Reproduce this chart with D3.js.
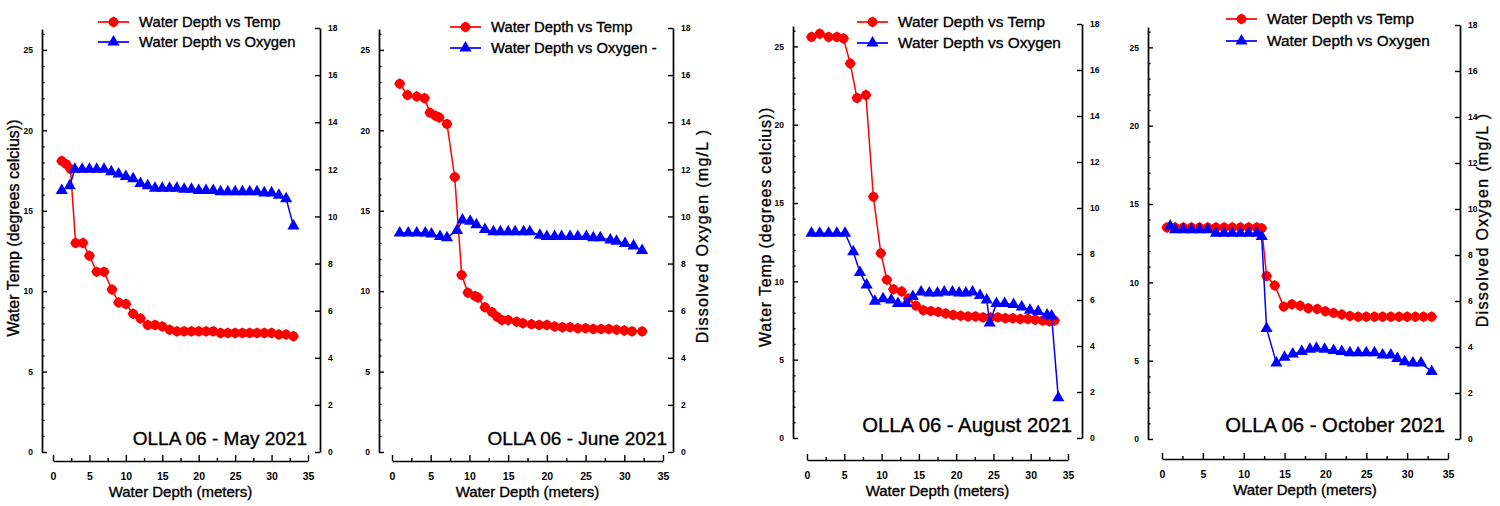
<!DOCTYPE html>
<html><head><meta charset="utf-8">
<script src="https://cdn.jsdelivr.net/npm/d3@7"></script>
<style>
body{margin:0;background:#fff;}
svg{display:block;font-family:"Liberation Sans",Arial,sans-serif;}
</style></head><body>
<svg id="chart" width="1500" height="506"></svg>
<script>
// ---------- tick labels / texts ----------
const xTickValues = [0,5,10,15,20,25,30,35];
const tempTickValues = [0,5,10,15,20,25];
const oxyTickValues = [0,2,4,6,8,10,12,14,16,18];
const tempAxisMax = 26.3;
const oxyAxisMax = 18;
const depthAxisMax = 35;
const tempLabel = "Water Temp (degrees celcius))";
const oxyLabel = "Dissolved Oxygen (mg/L )";
const xLabel = "Water Depth (meters)";
const tempSeriesName = "Water Depth vs Temp";
const oxySeriesNames = ["Water Depth vs Oxygen","Water Depth vs Oxygen -","Water Depth vs Oxygen","Water Depth vs Oxygen"];
const panelTitles = ["OLLA 06 - May 2021","OLLA 06 - June 2021","OLLA 06 - August 2021","OLLA 06 - October 2021"];

// ---------- data ----------
const mayTempDepth = [1.2,1.8,2.4,3.1,4.1,5,6,7,8.1,9,10,11,12,13,14,15,16,17,18,19,20,21,22,23,24,25,26,27,28,29,30,31,32,33];
const mayTemp      = [18.1,17.9,17.6,13.0,13.0,12.2,11.2,11.2,10.1,9.3,9.2,8.6,8.3,7.9,7.9,7.8,7.6,7.5,7.5,7.5,7.5,7.5,7.5,7.4,7.4,7.4,7.4,7.4,7.4,7.4,7.4,7.3,7.3,7.2];
const mayOxyDepth  = [1.2,2.3,3,4,5,6,7,8,9,10,11,12,13,14,15,16,17,18,19,20,21,22,23,24,25,26,27,28,29,30,31,32,33];
const mayOxy       = [11.1,11.3,12.0,12.0,12.0,12.0,12.0,11.9,11.8,11.7,11.6,11.4,11.3,11.2,11.2,11.2,11.2,11.15,11.15,11.1,11.1,11.1,11.05,11.05,11.05,11.05,11.05,11.05,11.0,11.0,10.9,10.75,9.6];

const junTempDepth = [1.0,2.0,3.2,4.2,4.9,5.6,6.1,7.1,8.1,9.0,9.8,10.7,11.1,12.0,12.9,13.6,14.2,15.0,16.1,16.9,18,19,20,21,22,23,24,25,26,27,28,29,30,31,32.3];
const junTemp      = [22.9,22.2,22.1,22.0,21.1,20.9,20.8,20.4,17.1,11.0,9.9,9.7,9.6,9.0,8.7,8.4,8.2,8.2,8.1,8.0,7.95,7.9,7.9,7.8,7.75,7.75,7.7,7.7,7.65,7.65,7.65,7.6,7.55,7.5,7.5];
const junOxyDepth  = [1.0,2.1,3.2,4.3,5.1,6.2,7.1,8.4,9.1,10.1,10.9,12.0,13.1,14,15,15.9,17,17.8,19.1,20,21,21.9,23,24,25.1,26,26.9,28.2,29,30.1,31.2,32.3];
const junOxy       = [9.3,9.3,9.3,9.3,9.25,9.15,9.1,9.4,9.85,9.8,9.65,9.45,9.35,9.35,9.35,9.35,9.35,9.35,9.2,9.15,9.15,9.15,9.15,9.15,9.15,9.1,9.1,9.0,8.95,8.85,8.75,8.55];

const augTempDepth = [0.6,1.7,2.9,4.0,4.9,5.8,6.7,7.9,8.9,9.9,10.7,11.6,12.7,13.6,14.6,15.6,16.6,17.6,18.6,19.6,20.6,21.6,22.6,23.6,24.6,25.6,26.6,27.6,28.6,29.6,30.6,31.6,32.5,33.2];
const augTemp      = [25.6,25.8,25.6,25.6,25.5,23.9,21.7,21.9,15.4,11.8,10.1,9.5,9.35,8.9,8.45,8.15,8.1,8.05,7.95,7.85,7.8,7.75,7.75,7.7,7.7,7.7,7.65,7.65,7.6,7.6,7.55,7.5,7.45,7.5];
const augOxyDepth  = [0.6,1.7,2.9,4.0,5.1,6.2,7.1,8.0,9.1,10.2,11.3,12.2,13.3,14.2,15.3,16.4,17.5,18.4,19.5,20.4,21.3,22.2,23.2,24.1,24.5,25.4,26.5,27.7,28.8,29.9,31.0,32.2,32.8,33.7];
const augOxy       = [8.9,8.9,8.9,8.9,8.9,8.1,7.2,6.65,5.95,6.05,6.0,5.85,5.85,6.15,6.35,6.3,6.3,6.35,6.35,6.3,6.3,6.35,6.2,6.0,5.0,5.85,5.85,5.8,5.7,5.55,5.5,5.35,5.3,1.75];

const octTempDepth = [0.6,1.6,2.6,3.6,4.6,5.6,6.6,7.6,8.6,9.6,10.6,11.6,12.2,12.8,13.8,14.9,15.9,16.9,17.9,19.0,20.0,21.0,22.0,23.0,24,25,26,27,28,29,30,31,32,33];
const octTemp      = [13.5,13.5,13.5,13.5,13.5,13.5,13.5,13.5,13.5,13.5,13.5,13.5,13.45,10.4,9.8,8.45,8.6,8.5,8.35,8.3,8.15,8.05,7.95,7.85,7.8,7.8,7.8,7.8,7.8,7.8,7.8,7.8,7.8,7.8];
const octOxyDepth  = [1.0,1.6,2.6,3.6,4.6,5.6,6.6,7.6,8.6,9.6,10.6,11.6,12.2,12.8,14.0,15.0,16.0,17.1,18.1,18.9,19.9,21.0,22.0,23.0,24,25,26,27,28,28.8,29.7,30.7,31.7,33.0];
const octOxy       = [9.25,9.1,9.1,9.1,9.1,9.1,8.95,8.95,8.95,8.95,8.95,8.95,8.8,4.8,3.3,3.55,3.7,3.8,3.9,3.95,3.9,3.85,3.8,3.75,3.75,3.75,3.75,3.65,3.65,3.5,3.36,3.3,3.3,2.93];

const panelData = [
  {tD: mayTempDepth, t: mayTemp, oD: mayOxyDepth, o: mayOxy},
  {tD: junTempDepth, t: junTemp, oD: junOxyDepth, o: junOxy},
  {tD: augTempDepth, t: augTemp, oD: augOxyDepth, o: augOxy},
  {tD: octTempDepth, t: octTemp, oD: octOxyDepth, o: octOxy}
];

// ---------- layout (positions / styles) ----------
const layout = [
  {left:42, right:320, top:29, rTop:28, bottom:452, xAxisY:461, x0:53, x1:308,
   legX:98, legY:[22,42], legFont:14.8, ann:[307,445], annFont:19,
   yTitle:{x:13, y:228, text:"temp", ls:0}},
  {left:379, right:673, top:29, rTop:28, bottom:452, xAxisY:461, x0:392, x1:663,
   legX:450, legY:[27,48], legFont:14.8, ann:[667,445], annFont:19,
   yTitle:{x:702, y:236, text:"oxy", ls:1.3}},
  {left:793, right:1082, top:26, rTop:24, bottom:438, xAxisY:460, x0:807, x1:1068,
   legX:857, legY:[22,43], legFont:15.4, ann:[1072,432], annFont:20.3,
   yTitle:{x:765, y:227, text:"temp", ls:0.8}},
  {left:1148, right:1460, top:27, rTop:25, bottom:439, xAxisY:459, x0:1162, x1:1448,
   legX:1226, legY:[19,41], legFont:15.4, ann:[1445,432], annFont:20.3,
   yTitle:{x:1482, y:220, text:"oxy", ls:1.3}}
];

const RED = "#ff0000", BLUE = "#0000ff";
const svg = d3.select("#chart");

// red marker: pointed blob
const blobSymbol = {
  draw(ctx, size) {
    const r = Math.sqrt(size) / 2, a = r * 0.64;
    ctx.moveTo(0, -r); ctx.lineTo(a, -a); ctx.lineTo(r, 0); ctx.lineTo(a, a);
    ctx.lineTo(0, r); ctx.lineTo(-a, a); ctx.lineTo(-r, 0); ctx.lineTo(-a, -a); ctx.closePath();
  }
};
const redSym = d3.symbol().type(blobSymbol).size(120);
const blueSym = d3.symbol().type(d3.symbolTriangle).size(64);

function styleAxis(sel, fontSize) {
  sel.selectAll("path.domain").attr("stroke", "#000").attr("stroke-width", 1.7);
  sel.selectAll(".tick line").attr("stroke", "#000").attr("stroke-width", 1.4);
  sel.selectAll(".tick text").attr("fill", "#000")
     .attr("font-size", fontSize).attr("font-weight", "bold")
     .attr("font-family", '"Liberation Sans",Arial,sans-serif');
  sel.attr("font-size", null).attr("font-family", null);
}

function darkText(sel) {
  return sel.attr("fill", "#000").attr("stroke", "#000").attr("stroke-width", 0.35);
}

function drawPanel(i) {
  const L = layout[i], D = panelData[i];
  const g = svg.append("g");
  const x = d3.scaleLinear().domain([0, depthAxisMax]).range([L.x0, L.x1]);
  const yT = d3.scaleLinear().domain([0, tempAxisMax]).range([L.bottom, L.top]);
  const yO = d3.scaleLinear().domain([0, oxyAxisMax]).range([L.bottom, L.rTop]);

  // left axis (temp)
  const lmin = g.append("g").attr("transform", `translate(${L.left},0)`)
    .call(d3.axisLeft(yT).tickValues(d3.range(0, 26.5, 1).filter(v => v % 5 !== 0))
      .tickSize(-2.5).tickFormat("").tickSizeOuter(0));
  lmin.select("path.domain").remove();
  styleAxis(lmin, 8.5);
  const lax = g.append("g").attr("transform", `translate(${L.left},0)`)
    .call(d3.axisLeft(yT).tickValues(tempTickValues).tickSize(-5).tickPadding(9).tickSizeOuter(0));
  styleAxis(lax, 8.5);

  // right axis (oxygen)
  const rax = g.append("g").attr("transform", `translate(${L.right},0)`)
    .call(d3.axisRight(yO).tickValues(oxyTickValues).tickSize(-5).tickPadding(8).tickSizeOuter(0));
  styleAxis(rax, 8.5);

  // x axis
  const xmin = g.append("g").attr("transform", `translate(0,${L.xAxisY})`)
    .call(d3.axisBottom(x).tickValues(d3.range(2.5, 35, 5)).tickSize(-3).tickFormat("").tickSizeOuter(0));
  xmin.select("path.domain").remove();
  styleAxis(xmin, 10);
  const xax = g.append("g").attr("transform", `translate(0,${L.xAxisY})`)
    .call(d3.axisBottom(x).tickValues(xTickValues).tickSize(-6).tickPadding(12).tickSizeOuter(0));
  styleAxis(xax, 10.5);

  // x title
  darkText(g.append("text").attr("x", (L.x0 + L.x1) / 2).attr("y", L.xAxisY + 36)
    .attr("text-anchor", "middle").attr("font-size", 15)).text(xLabel);

  // y title
  const yt = L.yTitle;
  darkText(g.append("text").attr("transform", `translate(${yt.x},${yt.y}) rotate(-90)`)
    .attr("text-anchor", "middle").attr("dy", "0.35em").attr("font-size", 16)
    .attr("letter-spacing", yt.ls))
    .text(yt.text === "temp" ? tempLabel : oxyLabel);

  // series
  const tPts = D.tD.map((d, k) => [d, D.t[k]]);
  const oPts = D.oD.map((d, k) => [d, D.o[k]]);
  const tLine = d3.line().x(p => x(p[0])).y(p => yT(p[1]));
  const oLine = d3.line().x(p => x(p[0])).y(p => yO(p[1]));

  g.append("path").datum(tPts).attr("d", tLine).attr("fill", "none").attr("stroke", RED).attr("stroke-width", 1.5);
  g.append("g").selectAll("path").data(tPts).join("path")
    .attr("transform", p => `translate(${x(p[0])},${yT(p[1])})`).attr("d", redSym).attr("fill", RED);

  g.append("path").datum(oPts).attr("d", oLine).attr("fill", "none").attr("stroke", BLUE).attr("stroke-width", 1.5);
  g.append("g").selectAll("path").data(oPts).join("path")
    .attr("transform", p => `translate(${x(p[0])},${yO(p[1])})`).attr("d", blueSym).attr("fill", BLUE);

  // legend
  const legItems = [
    {name: tempSeriesName, color: RED, sym: redSym},
    {name: oxySeriesNames[i], color: BLUE, sym: blueSym}
  ];
  legItems.forEach((it, k) => {
    const ly = L.legY[k];
    g.append("line").attr("x1", L.legX).attr("x2", L.legX + 31).attr("y1", ly).attr("y2", ly)
      .attr("stroke", it.color).attr("stroke-width", 1.7);
    g.append("path").attr("transform", `translate(${L.legX + 15.5},${ly})`).attr("d", it.sym).attr("fill", it.color);
    darkText(g.append("text").attr("x", L.legX + 41).attr("y", ly).attr("dy", "0.35em")
      .attr("font-size", L.legFont)).text(it.name);
  });

  // annotation
  darkText(g.append("text").attr("x", L.ann[0]).attr("y", L.ann[1]).attr("text-anchor", "end")
    .attr("font-size", L.annFont)).text(panelTitles[i]);
}

for (let i = 0; i < 4; i++) drawPanel(i);
</script>
</body></html>
